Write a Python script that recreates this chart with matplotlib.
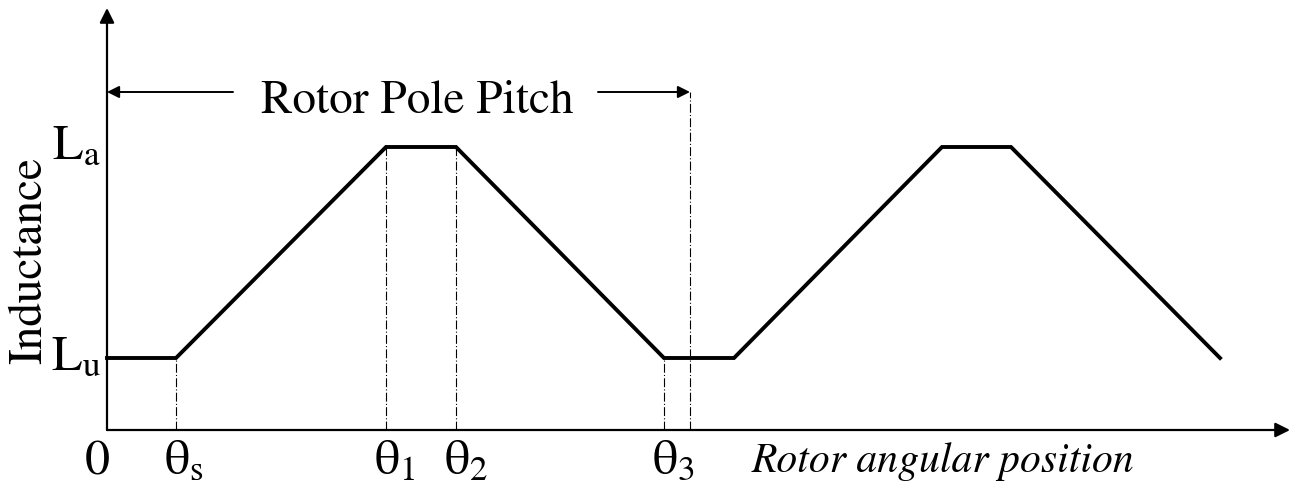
import matplotlib.pyplot as plt

plt.rcParams['font.family'] = 'STIXGeneral'
plt.rcParams['mathtext.fontset'] = 'stix'

# rotor angle breakpoints and inductance levels (arbitrary units)
theta_s = 69
theta_1 = 279
theta_2 = 349
theta_3 = 557
pole_pitch = 583
L_u = 0.72
L_a = 2.83

angle = [0, theta_s, theta_1, theta_2, theta_3, 627, 835, 904, 1113]
inductance = [L_u, L_u, L_a, L_a, L_u, L_u, L_a, L_a, L_u]

tick_pos = [theta_s, theta_1, theta_2, theta_3]
tick_text = [r"$\mathrm{\theta_s}$", r"$\mathrm{\theta_1}$",
             r"$\mathrm{\theta_2}$", r"$\mathrm{\theta_3}$"]

fig = plt.figure(figsize=(12.93, 4.84), dpi=100)
ax = fig.add_axes([107 / 1293, 54 / 484, 1183 / 1293, 422 / 484])
ax.set_xlim(0, 1183)
ax.set_ylim(0, 4.22)
ax.axis('off')

# axes with arrow heads
ax.annotate('', xy=(1183, 0), xytext=(0, 0),
            arrowprops=dict(arrowstyle='-|>', color='black', lw=1.6,
                            mutation_scale=22, shrinkA=0, shrinkB=0))
ax.annotate('', xy=(0, 4.22), xytext=(0, 0),
            arrowprops=dict(arrowstyle='-|>', color='black', lw=1.6,
                            mutation_scale=22, shrinkA=0, shrinkB=0))

# inductance profile
ax.plot(angle, inductance, color='black', lw=2.8, solid_joinstyle='miter',
        clip_on=False)

# guide lines down to the angle axis
for x, y in zip([theta_s, theta_1, theta_2, theta_3],
                [L_u, L_a, L_a, L_u]):
    ax.plot([x, x], [0, y], color='black', lw=0.8, ls=(0, (8, 2, 1, 2)))
pitch_y = 3.38
ax.plot([pole_pitch, pole_pitch], [0, pitch_y], color='black', lw=0.8,
        ls=(0, (8, 2, 1, 2)))

# pole pitch span
ax.annotate('', xy=(0, pitch_y), xytext=(126, pitch_y),
            arrowprops=dict(arrowstyle='-|>', color='black', lw=1.4,
                            mutation_scale=18, shrinkA=0, shrinkB=0))
ax.annotate('', xy=(pole_pitch, pitch_y), xytext=(491, pitch_y),
            arrowprops=dict(arrowstyle='-|>', color='black', lw=1.4,
                            mutation_scale=18, shrinkA=0, shrinkB=0))
ax.text(310, 3.17, "Rotor Pole Pitch", ha='center', va='baseline',
        fontsize=34)

# level labels
ax.text(-6, L_u, r"$\mathrm{L_u}$", ha='right', va='center', fontsize=36)
ax.text(-6, L_a, r"$\mathrm{L_a}$", ha='right', va='center', fontsize=36)
ax.text(-77, 1.69, "Inductance", rotation=90, ha='center', va='center',
        fontsize=34)

# angle labels
ax.text(-10, -0.1, "0", ha='center', va='top', fontsize=36)
for x, t in zip(tick_pos, tick_text):
    ax.text(x - 12, -0.1, t, ha='left', va='top', fontsize=36)
ax.text(645, -0.12, "Rotor angular position", ha='left', va='top',
        fontsize=30, style='italic')

fig.savefig("out.png", dpi=100)
